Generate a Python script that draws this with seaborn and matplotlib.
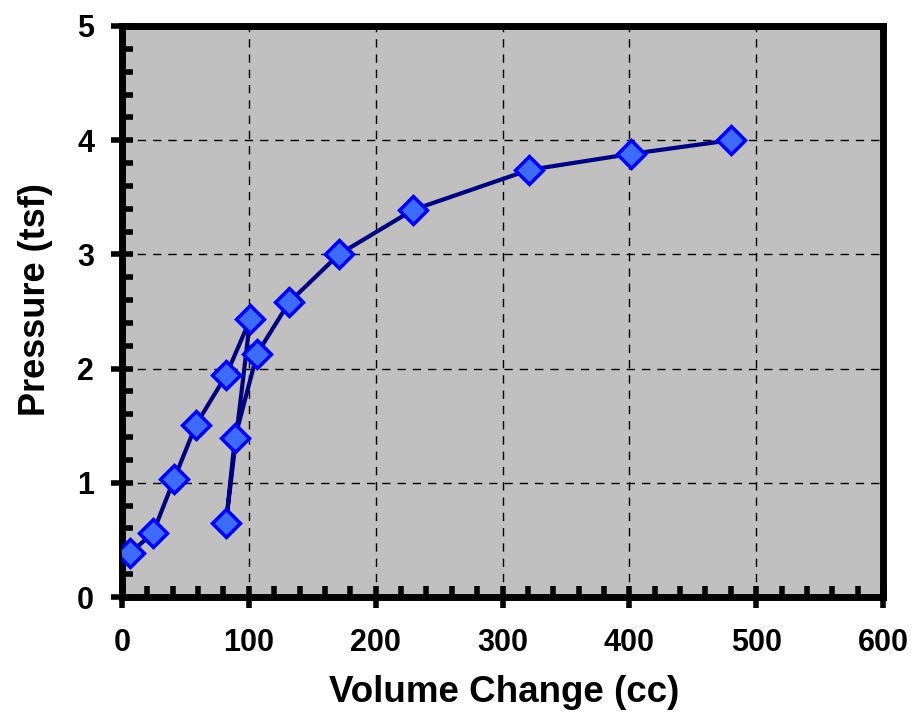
import matplotlib
matplotlib.use("Agg")
import matplotlib.pyplot as plt
import seaborn as sns
import pandas as pd
import numpy as np
from matplotlib.ticker import MultipleLocator

volume = [6.3, 24.4, 41, 58.4, 82, 101, 82, 89, 106.5, 131.7, 171, 229.5, 321, 401.4, 480]
pressure = [0.385, 0.56, 1.03, 1.51, 1.94, 2.43, 0.65, 1.39, 2.13, 2.58, 3.00, 3.39, 3.74, 3.88, 4.00]
x_ticks = [0, 100, 200, 300, 400, 500, 600]
y_ticks = [0, 1, 2, 3, 4, 5]

df = pd.DataFrame({"Volume Change (cc)": volume, "Pressure (tsf)": pressure})

sns.set_style("ticks")
plt.rcParams['font.family'] = ['Liberation Sans', 'DejaVu Sans']
plt.rcParams['font.weight'] = 'bold'
plt.rcParams['text.color'] = 'black'
plt.rcParams['axes.labelcolor'] = 'black'
plt.rcParams['xtick.color'] = 'black'
plt.rcParams['ytick.color'] = 'black'

fig = plt.figure(figsize=(9.16, 7.18), dpi=100)
ax = fig.add_axes([0.1332, 0.1685, 0.964 - 0.1332, 0.9638 - 0.1685])
ax.set_facecolor('#C0C0C0')

sns.lineplot(data=df, x="Volume Change (cc)", y="Pressure (tsf)", sort=False, estimator=None,
             color='#000080', linewidth=3, ax=ax, zorder=3)
ax.plot(df["Volume Change (cc)"], df["Pressure (tsf)"], linestyle='none', marker='D',
        markersize=14, markerfacecolor='#3D6BFF', markeredgecolor='#0000FF', markeredgewidth=2.5, zorder=4)

ax.set_xlim(0, 600)
ax.set_ylim(0, 5)
ax.set_xticks(x_ticks)
ax.set_yticks(y_ticks)
ax.xaxis.set_minor_locator(MultipleLocator(20))
ax.yaxis.set_minor_locator(MultipleLocator(0.2))
ax.grid(True, which='major', color='black', linestyle=(0, (6, 5)), linewidth=1.0, zorder=1)
ax.set_axisbelow(True)

for s in ax.spines.values():
    s.set_visible(True)
    s.set_color('black')
    s.set_linewidth(5)

ax.tick_params(which='major', direction='inout', length=16, width=4, labelsize=22,
               color='black', labelcolor='black', bottom=True, left=True, top=False, right=False)
ax.tick_params(axis='x', which='major', pad=14)
ax.tick_params(axis='y', which='major', pad=12)
ax.tick_params(which='minor', direction='in', length=8, width=4, color='black',
               bottom=True, left=True, top=False, right=False)
for lab in ax.get_xticklabels() + ax.get_yticklabels():
    lab.set_fontweight('bold')

ax.set_xlabel("Volume Change (cc)", fontsize=26.5, fontweight='bold', color='black')
ax.set_ylabel("Pressure (tsf)", fontsize=26, fontweight='bold', color='black')
ax.xaxis.set_label_coords((504 - 122) / (883 - 122), -(692 - 597) / (597 - 26))
ax.yaxis.set_label_coords(-(122 - 35) / (883 - 122), (597 - 300) / (597 - 26))
ax.xaxis.label.set_va('center')
ax.yaxis.label.set_va('center')

fig.savefig("out.png", dpi=100)
